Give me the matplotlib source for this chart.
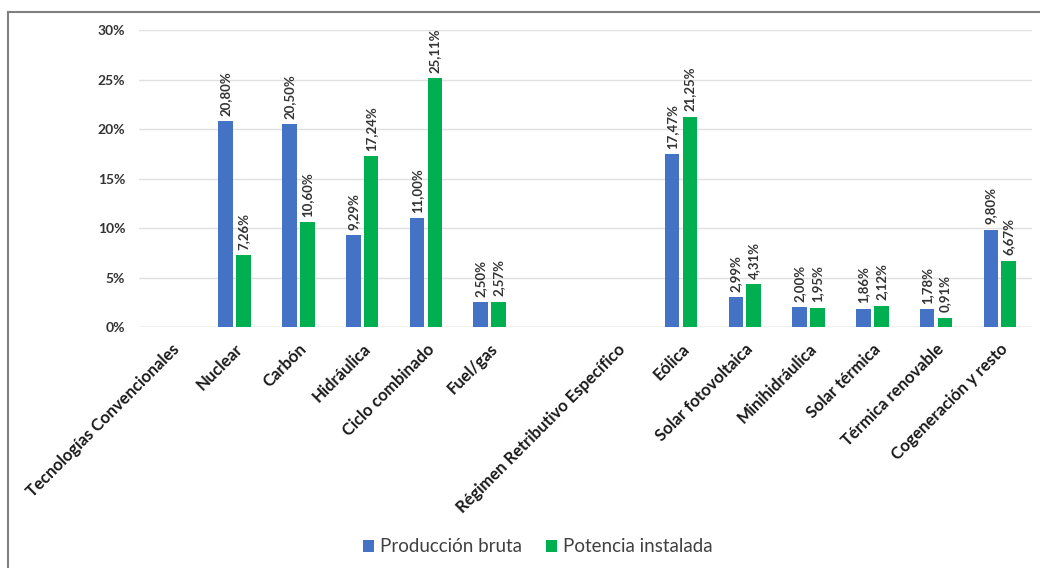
import numpy as np
import matplotlib
matplotlib.use('Agg')
import matplotlib.pyplot as plt
from matplotlib.lines import Line2D

plt.rcParams['font.family'] = ['Lato', 'DejaVu Sans']

categorias = ['Tecnologías Convencionales', 'Nuclear', 'Carbón', 'Hidráulica',
              'Ciclo combinado', 'Fuel/gas', '', 'Régimen Retributivo Específico',
              'Eólica', 'Solar fotovoltaica', 'Minihidráulica', 'Solar térmica',
              'Térmica renovable', 'Cogeneración y resto']
produccion = [np.nan, 20.80, 20.50, 9.29, 11.00, 2.50, np.nan, np.nan,
              17.47, 2.99, 2.00, 1.86, 1.78, 9.80]
potencia = [np.nan, 7.26, 10.60, 17.24, 25.11, 2.57, np.nan, np.nan,
            21.25, 4.31, 1.95, 2.12, 0.91, 6.67]
yticks = [0, 5, 10, 15, 20, 25, 30]

azul = '#4472C4'
verde = '#00B050'

fig = plt.figure(figsize=(10.4, 5.68), dpi=100)
ax = fig.add_axes([0.1337, 0.4243, 0.8583, 0.5227])

x = np.arange(len(categorias))
w = 0.23
b1 = ax.bar(x - 0.14, produccion, w, color=azul, label='Producción bruta', zorder=3)
b2 = ax.bar(x + 0.14, potencia, w, color=verde, label='Potencia instalada', zorder=3)

# etiquetas de valor
for bars, vals in ((b1, produccion), (b2, potencia)):
    for rect, v in zip(bars, vals):
        if np.isnan(v):
            continue
        ax.annotate(f'{v:.2f}%'.replace('.', ','),
                    (rect.get_x() + rect.get_width() / 2, v),
                    xytext=(0, 4), textcoords='offset points',
                    rotation=90, ha='center', va='bottom',
                    fontsize=9.5, fontweight='bold', color='#333333')

ax.set_xlim(-0.5, len(categorias) - 0.5)
ax.set_ylim(0, 30)
ax.set_yticks(yticks)
ax.set_yticklabels([f'{t}%' for t in yticks], fontsize=10, fontweight='bold', color='#333333')
ax.set_xticks(x)
ax.set_xticklabels(categorias, rotation=45, ha='right', va='top',
                   rotation_mode='anchor', fontsize=12, fontweight='bold', color='#1a1a1a')
ax.tick_params(axis='y', length=0, pad=10)
ax.tick_params(axis='x', length=0, pad=10)
ax.yaxis.grid(True, color='#e0e0e0', linewidth=1, zorder=0)
for s in ax.spines.values():
    s.set_visible(False)
ax.axhline(0, color='#d9d9d9', linewidth=1, zorder=2)

fig.legend(loc='center', bbox_to_anchor=(0.517, 0.037), ncol=2, frameon=False,
           handlelength=0.6, handleheight=0.6, handletextpad=0.3, columnspacing=1.3,
           prop={'size': 13.5}, labelcolor='#404040')

# marco
fig.add_artist(Line2D([8 / 1040, 8 / 1040], [0, 1 - 12 / 568], color='#808080', linewidth=1.5))
fig.add_artist(Line2D([8 / 1040, 1], [1 - 12 / 568, 1 - 12 / 568], color='#808080', linewidth=1.5))

fig.savefig('out.png', dpi=100)
